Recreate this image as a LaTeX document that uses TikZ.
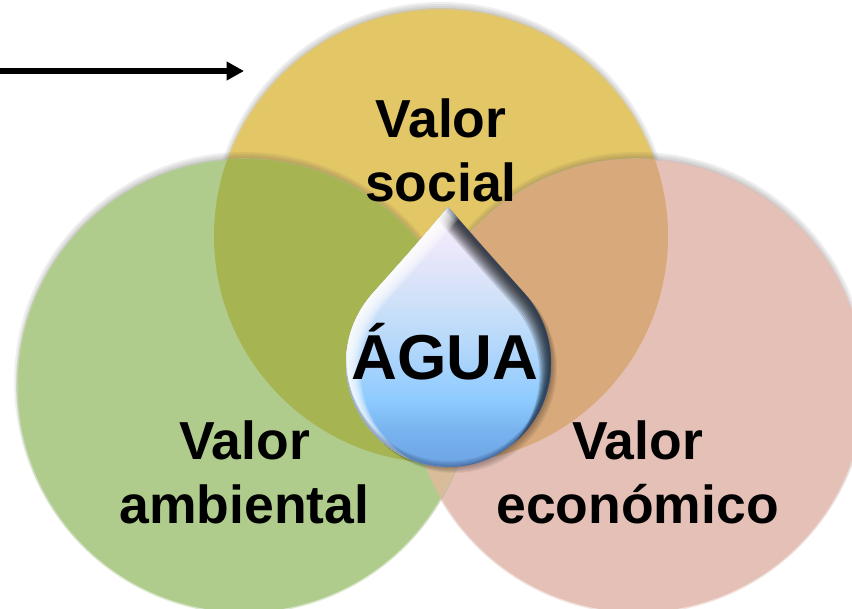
\documentclass[tikz,border=0pt]{standalone}
\usepackage{fontspec}
\setmainfont{Liberation Sans}
\usetikzlibrary{arrows.meta}
\definecolor{ouro}{HTML}{E3C666}
\definecolor{verde}{HTML}{AFCC8D}
\definecolor{rosa}{HTML}{E5C0B6}
\definecolor{oliva}{HTML}{A6B552}
\definecolor{bronze}{HTML}{D8A97B}
\definecolor{lente}{HTML}{D9BC9A}
\definecolor{borda}{HTML}{3A5A88}
\definecolor{ga}{HTML}{6EA3E3}
\definecolor{gb}{HTML}{78B3EF}
\definecolor{gc}{HTML}{8ECBFF}
\definecolor{gd}{HTML}{B5D8FB}
\definecolor{ge}{HTML}{CFE1F8}
\definecolor{gf}{HTML}{EFE8FB}
\definecolor{gg}{HTML}{F4EEFB}
\pgfdeclareverticalshading{gota}{100bp}{
  color(0bp)=(ga);
  color(25bp)=(ga);
  color(32bp)=(gb);
  color(38bp)=(gc);
  color(48.5bp)=(gd);
  color(57bp)=(ge);
  color(68.6bp)=(gf);
  color(75bp)=(gg);
  color(100bp)=(gg)}
\tikzset{
  rotulo/.style={font=\fontsize{53.5}{64}\selectfont\bfseries,align=center,inner sep=0pt,text=black},
  titulo/.style={font=\fontsize{63.5}{70}\selectfont\bfseries,inner sep=0pt,anchor=base,text=black},
  seta/.style={line width=5.2pt,black,-{Triangle[length=17.5pt,width=18pt]}}
}
\newcommand{\discomacio}[4]{%
  \foreach \d in {-3,-1,1,3}{\fill[black!70,opacity=.085] (#1,#2-4) circle[radius=#3pt+\d pt];}
  \fill[#4,opacity=.45] (#1,#2) circle[radius=#3pt+.8pt];
  \fill[#4] (#1,#2) circle[radius=#3pt-.8pt];}
\def\dx{0}\def\dy{0}
\def\contorno{(448+\dx,207+\dy) .. controls (425+\dx,235+\dy) and (398+\dx,265+\dy) .. (373+\dx,293+\dy) .. controls (355+\dx,313+\dy) and (346+\dx,338+\dy) .. (346+\dx,363+\dy) .. controls (346+\dx,420+\dy) and (392+\dx,467+\dy) .. (448.5+\dx,467+\dy) .. controls (505+\dx,467+\dy) and (551+\dx,420+\dy) .. (551+\dx,363+\dy) .. controls (551+\dx,338+\dy) and (542+\dx,313+\dy) .. (524+\dx,293+\dy) .. controls (499+\dx,265+\dy) and (472+\dx,235+\dy) .. (448+\dx,207+\dy) -- cycle}
\def\moldura{(300,160) rectangle (600,520)}
\begin{document}
\begin{tikzpicture}[x=1pt,y=-1pt]
\useasboundingbox (0,0) rectangle (852,609);
\clip (0,0) rectangle (852,609);
\fill[white] (0,0) rectangle (852,609);
% circles
\discomacio{441}{236}{227}{ouro}
\discomacio{638}{386}{227}{rosa}
\discomacio{244}{386}{227}{verde}
\begin{scope}
  \clip (244,386) circle[radius=227pt];
  \fill[lente] (638,386) circle[radius=227pt];
\end{scope}
\begin{scope}
  \clip (441,236) circle[radius=227pt];
  \fill[oliva] (244,386) circle[radius=227pt];
  \fill[bronze] (638,386) circle[radius=227pt];
\end{scope}
% arrow
\coordinate (inicio) at (0,71);
\coordinate (fim) at (244,71);
\draw[seta] (inicio) -- (fim);
% drop shadow
\foreach \dx/\dy in {1/1,2/2,3/3,4/4,5/5,6/6}{\fill[black,opacity=.055] \contorno;}
% drop
\shade[shading=gota] \contorno;
\begin{scope}
  \clip \contorno;
  % dark crescent, upper right
  \foreach \k in {1.5,3,4.5,6,7.5,9,10.5,12,13.5}{
    \pgfmathsetmacro\dx{-.85*\k}\pgfmathsetmacro\dy{.85*\k}
    \fill[black,opacity=.14,even odd rule] \moldura \contorno;}
  % white crescent, upper left
  \foreach \k in {1,2.5,4,5.5,7,8.5,10,11.5,13,14.5}{
    \pgfmathsetmacro\dx{\k}\pgfmathsetmacro\dy{.5*\k}
    \fill[white,opacity=.2,even odd rule] \moldura \contorno;}
  % side rims
  \foreach \k in {1,2,3,4,5,6}{
    \pgfmathsetmacro\dx{-\k}\def\dy{0}
    \fill[borda,opacity=.07,even odd rule] \moldura \contorno;}
  \foreach \k in {1,2,3}{
    \pgfmathsetmacro\dx{\k}\def\dy{0}
    \fill[white,opacity=.14,even odd rule] \moldura \contorno;}
  % bottom rim
  \foreach \k in {1,2,3,4,5,6}{
    \def\dx{0}\pgfmathsetmacro\dy{-\k}
    \fill[borda,opacity=.12,even odd rule] \moldura \contorno;}
\end{scope}
% texts
\node[rotulo] (social) at (441,150.5) {Valor\\social};
\node[rotulo] (ambiental) at (244.5,472.5) {Valor\\ambiental};
\node[rotulo] (economico) at (637.5,472.5) {Valor\\económico};
\node[titulo] (agua) at (445,379.5) {ÁGUA};
\end{tikzpicture}
\end{document}
